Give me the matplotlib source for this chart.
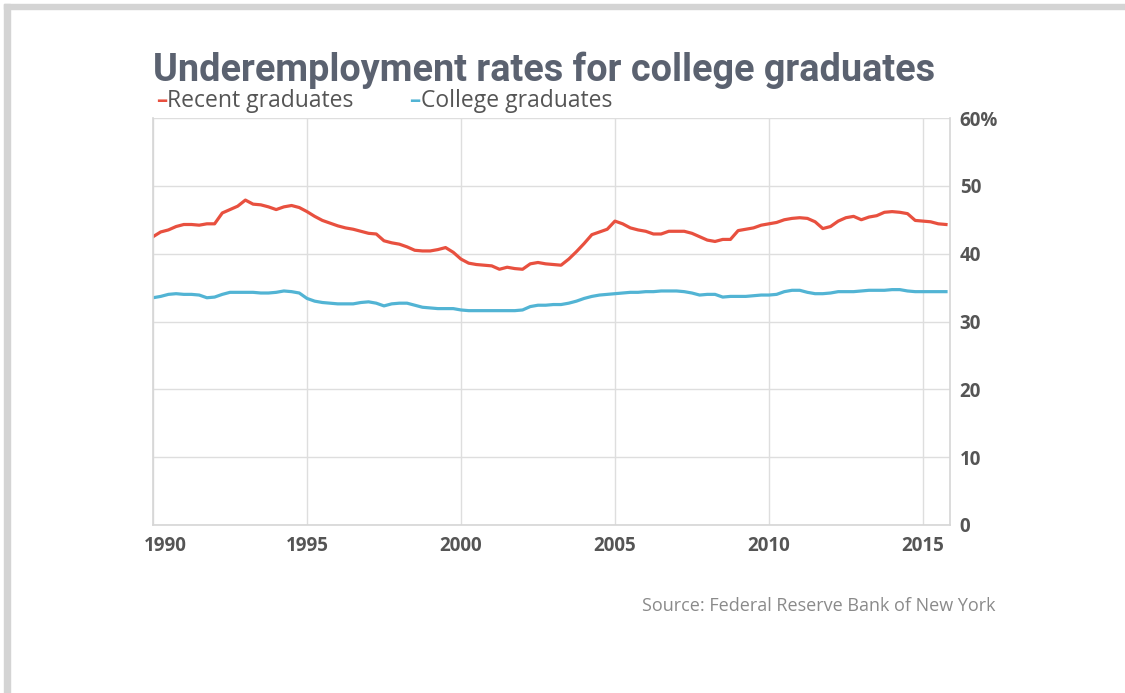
import numpy as np
import matplotlib
matplotlib.use("Agg")
import matplotlib.pyplot as plt
import matplotlib.transforms as mtransforms
from matplotlib.patches import Rectangle

# quarterly readings, 1990 Q1 .. 2015 Q4
recent = [
    42.5, 43.2, 43.5, 44.0,  44.3, 44.3, 44.2, 44.4,  44.4, 46.0, 46.5, 47.0,
    47.9, 47.3, 47.2, 46.9,  46.5, 46.9, 47.1, 46.8,  46.2, 45.5, 44.9, 44.5,
    44.1, 43.8, 43.6, 43.3,  43.0, 42.9, 41.9, 41.6,  41.4, 41.0, 40.5, 40.4,
    40.4, 40.6, 40.9, 40.2,  39.2, 38.6, 38.4, 38.3,  38.2, 37.7, 38.0, 37.8,
    37.7, 38.5, 38.7, 38.5,  38.4, 38.3, 39.2, 40.3,  41.5, 42.8, 43.2, 43.6,
    44.8, 44.4, 43.8, 43.5,  43.3, 42.9, 42.9, 43.3,  43.3, 43.3, 43.0, 42.5,
    42.0, 41.8, 42.1, 42.1,  43.4, 43.6, 43.8, 44.2,  44.4, 44.6, 45.0, 45.2,
    45.3, 45.2, 44.7, 43.7,  44.0, 44.8, 45.3, 45.5,  45.0, 45.4, 45.6, 46.1,
    46.2, 46.1, 45.9, 44.9,  44.8, 44.7, 44.4, 44.3,
]
college = [
    33.5, 33.7, 34.0, 34.1,  34.0, 34.0, 33.9, 33.5,  33.6, 34.0, 34.3, 34.3,
    34.3, 34.3, 34.2, 34.2,  34.3, 34.5, 34.4, 34.2,  33.4, 33.0, 32.8, 32.7,
    32.6, 32.6, 32.6, 32.8,  32.9, 32.7, 32.3, 32.6,  32.7, 32.7, 32.4, 32.1,
    32.0, 31.9, 31.9, 31.9,  31.7, 31.6, 31.6, 31.6,  31.6, 31.6, 31.6, 31.6,
    31.7, 32.2, 32.4, 32.4,  32.5, 32.5, 32.7, 33.0,  33.4, 33.7, 33.9, 34.0,
    34.1, 34.2, 34.3, 34.3,  34.4, 34.4, 34.5, 34.5,  34.5, 34.4, 34.2, 33.9,
    34.0, 34.0, 33.6, 33.7,  33.7, 33.7, 33.8, 33.9,  33.9, 34.0, 34.4, 34.6,
    34.6, 34.3, 34.1, 34.1,  34.2, 34.4, 34.4, 34.4,  34.5, 34.6, 34.6, 34.6,
    34.7, 34.7, 34.5, 34.4,  34.4, 34.4, 34.4, 34.4,
]
years = 1990 + np.arange(len(recent)) / 4.0

x_ticks = [1990, 1995, 2000, 2005, 2010, 2015]
y_ticks = [0, 10, 20, 30, 40, 50, 60]
y_labels = ["0", "10", "20", "30", "40", "50", "60%"]

RED = "#e8503f"
BLUE = "#52b4d4"
GRID = "#dedede"
TEXT = "#555555"

fig = plt.figure(figsize=(11.25, 6.93), dpi=100)
W, H = 1125, 693

# screenshot frame
fig.patches.append(Rectangle((4 / W, 0), 6 / W, 1 - 4 / H, transform=fig.transFigure,
                             color="#d4d4d4", zorder=0))
fig.patches.append(Rectangle((4 / W, 1 - 9 / H), 1, 5 / H, transform=fig.transFigure,
                             color="#d4d4d4", zorder=0))

ax = fig.add_axes([153 / W, 1 - 525 / H, (950 - 153) / W, (525 - 118) / H])
ax.plot(years, recent, color=RED, lw=2.3, solid_joinstyle="round")
ax.plot(years, college, color=BLUE, lw=2.3, solid_joinstyle="round")

ax.set_xlim(1990, 2015.88)
ax.set_ylim(0, 60)
ax.set_xticks(x_ticks)
ax.set_yticks(y_ticks)
ax.set_yticklabels(y_labels)
ax.grid(True, color=GRID, lw=1)
ax.set_axisbelow(True)
for s in ax.spines.values():
    s.set_color("#d6d6d6")
    s.set_linewidth(1.2)
ax.spines["top"].set_visible(False)

ax.yaxis.tick_right()
ax.tick_params(axis="both", length=0, colors=TEXT)
ax.tick_params(axis="y", pad=7)
ax.tick_params(axis="x", pad=8)
for lab in ax.get_xticklabels() + ax.get_yticklabels():
    lab.set_fontfamily("Open Sans")
    lab.set_fontweight("bold")
    lab.set_fontsize(13.5)
    lab.set_color(TEXT)
for lab in ax.get_yticklabels():
    lab.set_horizontalalignment("left")
first = ax.get_xticklabels()[0]
first.set_transform(first.get_transform() + mtransforms.ScaledTranslation(12 / 100, 0, fig.dpi_scale_trans))

fig.text(153 / W, 1 - 81 / H, "Underemployment rates for college graduates",
         fontfamily="Roboto", fontweight="bold", fontsize=27.3, color="#5b6270",
         ha="left", va="baseline")

leg_y = 1 - 107 / H
fig.text(156 / W, leg_y, "–", color=RED, fontsize=16, fontweight="bold",
         fontfamily="Open Sans", va="baseline")
fig.text(167 / W, leg_y, "Recent graduates", color=TEXT, fontsize=16.5,
         fontfamily="Open Sans", va="baseline")
fig.text(409 / W, leg_y, "–", color=BLUE, fontsize=16, fontweight="bold",
         fontfamily="Open Sans", va="baseline")
fig.text(421 / W, leg_y, "College graduates", color=TEXT, fontsize=16.5,
         fontfamily="Open Sans", va="baseline")

fig.text(995 / W, 1 - 611 / H, "Source: Federal Reserve Bank of New York",
         color="#8a8a8a", fontsize=13, fontfamily="Open Sans", ha="right", va="baseline")

fig.savefig("out.png", dpi=100, facecolor="white")
